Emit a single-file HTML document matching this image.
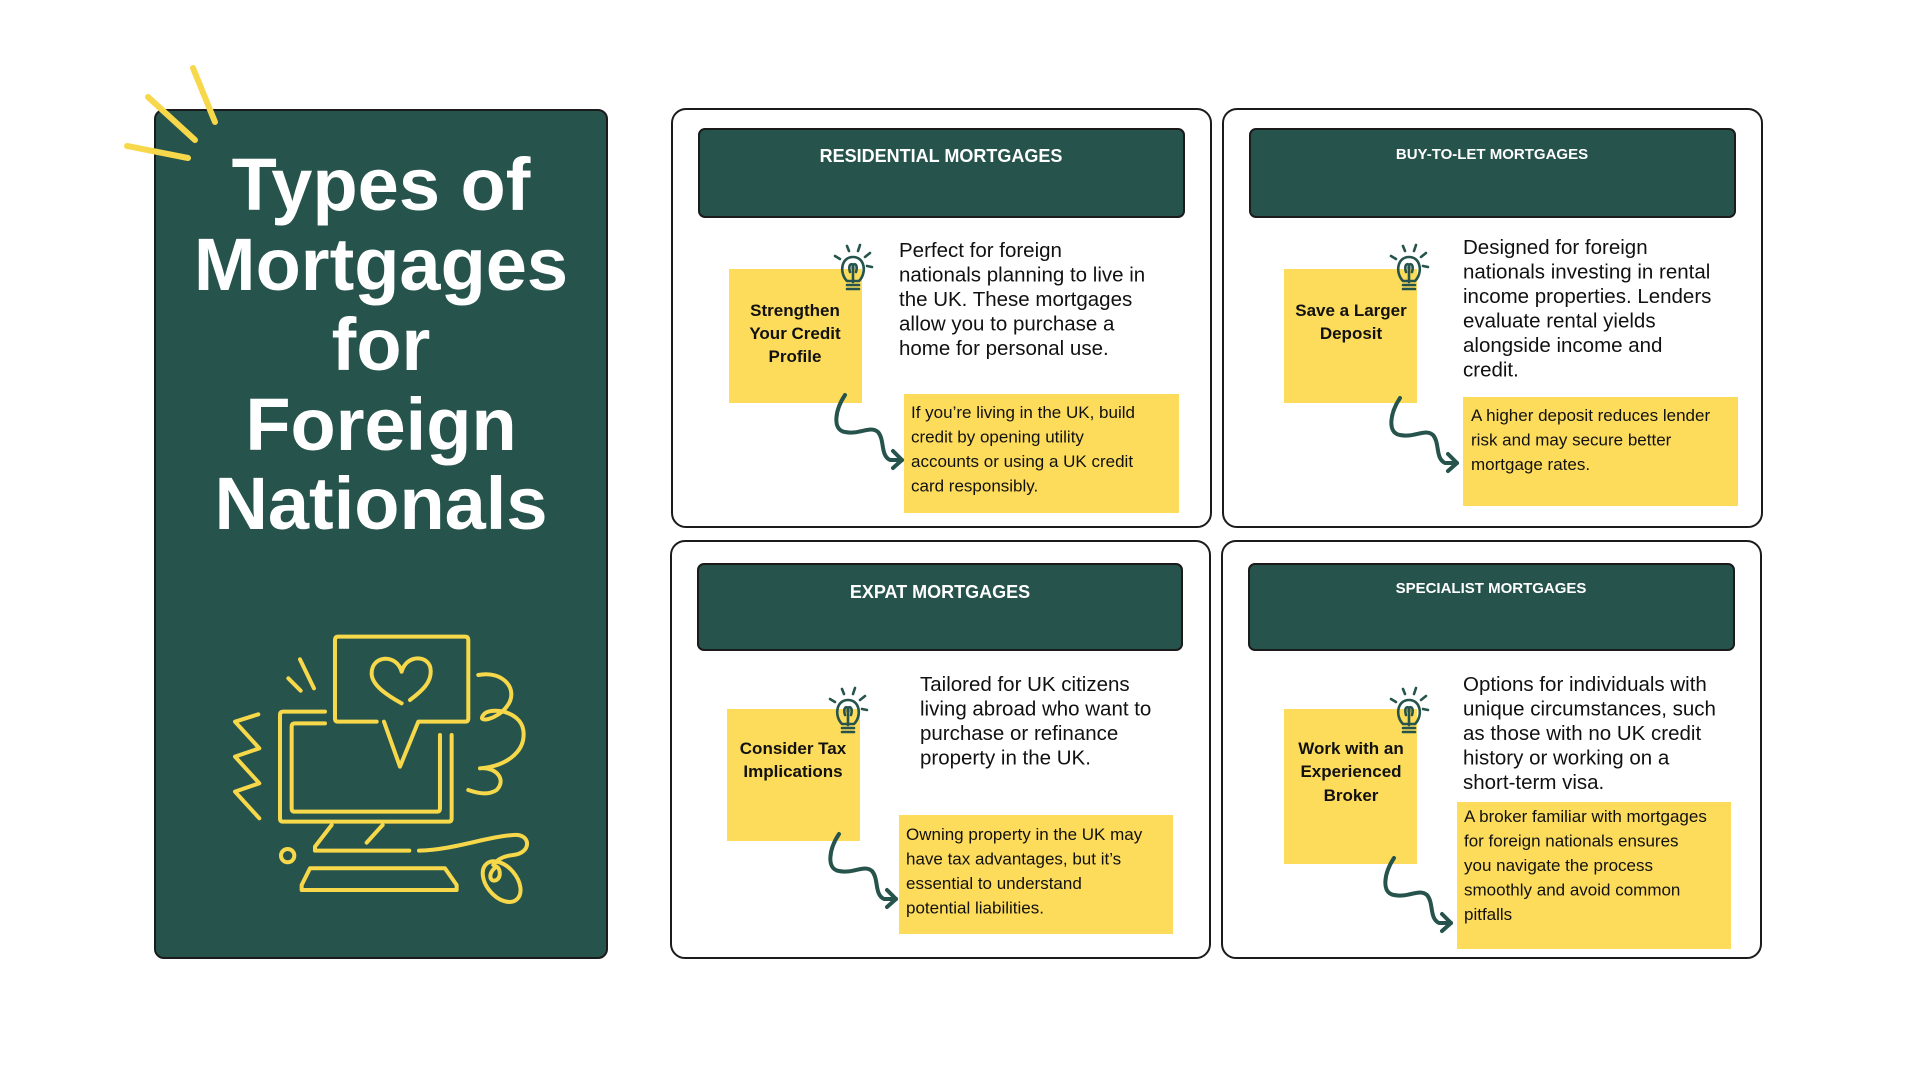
<!DOCTYPE html>
<html><head><meta charset="utf-8"><style>
html,body{margin:0;padding:0;background:#fff;}
svg{display:block;font-family:"Liberation Sans",Arial,sans-serif;}
</style></head><body>
<svg width="1920" height="1080" viewBox="0 0 1920 1080" xmlns="http://www.w3.org/2000/svg">
<defs>
<g id="bulb" fill="none" stroke="#26544c" stroke-width="2.6" stroke-linecap="round">
  <path d="M-6,13 C-14,5 -12,-11 0,-11 C12,-11 14,5 6,13 Z"/>
  <path d="M-3,4 C-6,-6 2,-6 0,2 M3,4 C6,-6 -2,-6 0,2 M0,2 V14"/>
  <path d="M-6,17 H6 M-6,21 H6"/>
  <path d="M-4,-17 L-6,-22 M5,-17 L7,-23 M12,-11 L17,-15 M14,-2 L19,-1 M-13,-9 L-18,-12"/>
</g>
<g id="arr" fill="none" stroke="#26544c" stroke-width="4" stroke-linecap="round" stroke-linejoin="round">
  <path d="M-17,-8 C-27,7 -30,27 -17,29 C-2,32 8,22 16,29 C23,37 18,52 28,57 L40,57"/>
  <path d="M31,48 L40,57 L31,65"/>
</g>
</defs>

<!-- left panel -->
<rect x="155" y="110" width="452" height="848" rx="9" fill="#26544c" stroke="#1b1b1b" stroke-width="2"/>
<g stroke="#f7d84a" stroke-width="6" stroke-linecap="round">
  <line x1="148" y1="97" x2="195" y2="140"/>
  <line x1="193" y1="68" x2="215" y2="122"/>
  <line x1="127" y1="146" x2="188" y2="158"/>
</g>
<g fill="#fff" font-weight="bold" font-size="74" text-anchor="middle">
  <text x="381" y="210">Types of</text>
  <text x="381" y="290">Mortgages</text>
  <text x="381" y="370">for</text>
  <text x="381" y="450">Foreign</text>
  <text x="381" y="529">Nationals</text>
</g>
<g transform="translate(220,620) scale(0.3333)" fill="none" stroke="#f7d84a" stroke-width="12" stroke-linecap="round" stroke-linejoin="round">
  <path d="M470,305 H355 Q345,305 345,295 V60 Q345,50 355,50 H735 Q745,50 745,60 V295 Q745,305 735,305 H595 L540,440 L492,305"/>
  <path d="M545,250 C500,225 455,195 455,160 C455,105 530,100 545,155 C560,100 630,105 632,150 C635,185 610,210 570,240"/>
  <path d="M315,275 H190 Q180,275 180,285 V595 Q180,605 190,605 H685 Q695,605 695,595 V345"/>
  <path d="M315,310 H225 Q215,310 215,320 V565 Q215,575 225,575 H650 Q660,575 660,565 V345"/>
  <path d="M335,615 L285,680 V692 H568"/>
  <path d="M488,615 L440,668"/>
  <path d="M597,692 C700,690 800,650 880,645 C935,640 935,700 880,705 C850,708 830,720 820,735"/>
  <path d="M270,745 H675 L710,795 V810 H245 V795 Z"/>
  <circle cx="203" cy="707" r="20"/>
  <ellipse cx="845" cy="785" rx="45" ry="70" transform="rotate(-40 845 785)"/>
  <path d="M830,740 C800,760 810,790 830,780 C845,770 840,745 830,740"/>
  <path d="M115,283 L45,305 L118,385 L45,410 L118,490 L45,515 L118,595"/>
  <path d="M240,118 L282,205 M205,175 L242,212"/>
  <path d="M775,165 C850,150 900,210 860,260 C830,300 770,310 790,285 C805,260 900,270 910,330 C920,400 850,440 780,445 C830,440 860,480 830,510 C800,530 760,515 745,510"/>
</g>

<!-- panels -->
<g fill="#fff" stroke="#1b1b1b" stroke-width="2">
  <rect x="672" y="109" width="539" height="418" rx="14"/>
  <rect x="1223" y="109" width="539" height="418" rx="14"/>
  <rect x="671" y="541" width="539" height="417" rx="14"/>
  <rect x="1222" y="541" width="539" height="417" rx="14"/>
</g>
<g fill="#26544c" stroke="#1b1b1b" stroke-width="2">
  <rect x="699" y="129" width="485" height="88" rx="6"/>
  <rect x="1250" y="129" width="485" height="88" rx="6"/>
  <rect x="698" y="564" width="484" height="86" rx="6"/>
  <rect x="1249" y="564" width="485" height="86" rx="6"/>
</g>
<g fill="#fff" font-weight="bold" text-anchor="middle">
  <text x="941" y="162" font-size="18">RESIDENTIAL MORTGAGES</text>
  <text x="1492" y="159" font-size="15">BUY-TO-LET MORTGAGES</text>
  <text x="940" y="598" font-size="18">EXPAT MORTGAGES</text>
  <text x="1491" y="593" font-size="15">SPECIALIST MORTGAGES</text>
</g>

<!-- stickies -->
<g fill="#fddc5c">
  <rect x="729" y="269" width="133" height="134"/>
  <rect x="904" y="394" width="275" height="119"/>
  <rect x="1284" y="269" width="133" height="134"/>
  <rect x="1463" y="397" width="275" height="109"/>
  <rect x="727" y="709" width="133" height="132"/>
  <rect x="899" y="815" width="274" height="119"/>
  <rect x="1284" y="709" width="133" height="155"/>
  <rect x="1457" y="802" width="274" height="147"/>
</g>
<use href="#bulb" x="853" y="268"/>
<use href="#bulb" x="1409" y="268"/>
<use href="#bulb" x="848" y="711"/>
<use href="#bulb" x="1409" y="711"/>
<use href="#arr" x="862" y="403"/>
<use href="#arr" x="1417" y="406"/>
<use href="#arr" x="856" y="842"/>
<use href="#arr" x="1411" y="866"/>

<g fill="#111" font-weight="bold" font-size="17" text-anchor="middle">
  <text x="795" y="316">Strengthen</text><text x="795" y="339">Your Credit</text><text x="795" y="362">Profile</text>
  <text x="1351" y="316">Save a Larger</text><text x="1351" y="339">Deposit</text>
  <text x="793" y="754">Consider Tax</text><text x="793" y="777">Implications</text>
  <text x="1351" y="754">Work with an</text><text x="1351" y="777">Experienced</text><text x="1351" y="801">Broker</text>
</g>

<g fill="#111" font-size="20.5">
  <text x="899" y="257">Perfect for foreign</text>
  <text x="899" y="281.5">nationals planning to live in</text>
  <text x="899" y="306">the UK. These mortgages</text>
  <text x="899" y="330.5">allow you to purchase a</text>
  <text x="899" y="355">home for personal use.</text>

  <text x="1463" y="254">Designed for foreign</text>
  <text x="1463" y="278.5">nationals investing in rental</text>
  <text x="1463" y="303">income properties. Lenders</text>
  <text x="1463" y="327.5">evaluate rental yields</text>
  <text x="1463" y="352">alongside income and</text>
  <text x="1463" y="376.5">credit.</text>

  <text x="920" y="691">Tailored for UK citizens</text>
  <text x="920" y="715.5">living abroad who want to</text>
  <text x="920" y="740">purchase or refinance</text>
  <text x="920" y="764.5">property in the UK.</text>

  <text x="1463" y="691">Options for individuals with</text>
  <text x="1463" y="715.5">unique circumstances, such</text>
  <text x="1463" y="740">as those with no UK credit</text>
  <text x="1463" y="764.5">history or working on a</text>
  <text x="1463" y="789">short-term visa.</text>
</g>

<g fill="#111" font-size="17">
  <text x="911" y="418">If you’re living in the UK, build</text>
  <text x="911" y="442.5">credit by opening utility</text>
  <text x="911" y="467">accounts or using a UK credit</text>
  <text x="911" y="491.5">card responsibly.</text>

  <text x="1471" y="421">A higher deposit reduces lender</text>
  <text x="1471" y="445.5">risk and may secure better</text>
  <text x="1471" y="470">mortgage rates.</text>

  <text x="906" y="840">Owning property in the UK may</text>
  <text x="906" y="864.5">have tax advantages, but it’s</text>
  <text x="906" y="889">essential to understand</text>
  <text x="906" y="913.5">potential liabilities.</text>

  <text x="1464" y="822">A broker familiar with mortgages</text>
  <text x="1464" y="846.5">for foreign nationals ensures</text>
  <text x="1464" y="871">you navigate the process</text>
  <text x="1464" y="895.5">smoothly and avoid common</text>
  <text x="1464" y="920">pitfalls</text>
</g>
</svg>
</body></html>
